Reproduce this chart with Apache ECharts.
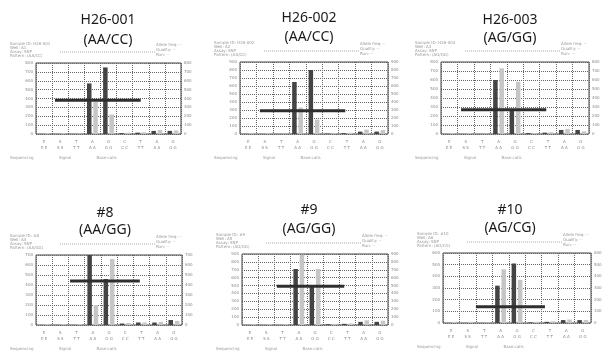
<!DOCTYPE html>
<html>
<head>
<meta charset="utf-8">
<script src="https://cdn.jsdelivr.net/npm/echarts@6/dist/echarts.min.js"></script>
<style>
  html, body { margin: 0; padding: 0; background: #fff; }
  #chart { width: 612px; height: 353px; }
</style>
</head>
<body>
<div id="chart"></div>
<script>
// sample names and genotypes
const sampleNames = ['H26-001', 'H26-002', 'H26-003', '#8', '#9', '#10']
const genotypes = ['(AA/CC)', '(AA/CC)', '(AG/GG)', '(AA/GG)', '(AG/GG)', '(AG/CG)']

// dispensation order under each column
const dispensations = ['E', 'S', 'T', 'A', 'G', 'C', 'T', 'A', 'G']

// y-axis top per pyrogram (gridline every 100)
const yMax = [800, 900, 800, 700, 900, 600]

// dark bars (first allele) per pyrogram
const darkP1 = [0, 0, 0, 570, 750, 10, 15, 35, 35]
const darkP2 = [0, 0, 0, 650, 800, 5, 10, 30, 30]
const darkP3 = [0, 0, 0, 600, 270, 10, 15, 45, 45]
const darkP4 = [0, 0, 0, 700, 460, 15, 25, 25, 50]
const darkP5 = [0, 0, 0, 710, 490, 10, 15, 40, 40]
const darkP6 = [0, 0, 0, 320, 510, 5, 10, 25, 25]

// light bars (second allele)
const lightP1 = [10, 10, 5, 360, 220, 15, 20, 45, 40]
const lightP2 = [10, 10, 5, 330, 180, 10, 15, 55, 50]
const lightP3 = [10, 10, 5, 730, 580, 10, 20, 55, 30]
const lightP4 = [10, 10, 10, 200, 660, 20, 25, 30, 40]
const lightP5 = [10, 10, 10, 890, 710, 15, 20, 60, 55]
const lightP6 = [10, 10, 5, 460, 370, 10, 15, 30, 25]

// reference line: level, start column, end column
const refLevel = [380, 290, 270, 440, 490, 140]
const refStart = [1.18, 1.21, 1.22, 2.1, 2.15, 2.0]
const refEnd = [6.5, 6.4, 6.4, 6.4, 6.3, 6.2]

const darkValues = [darkP1, darkP2, darkP3, darkP4, darkP5, darkP6]
const lightValues = [lightP1, lightP2, lightP3, lightP4, lightP5, lightP6]

// layout: plot boxes [left, top, width, height] and title centers
const boxes = [
  [36, 63, 145, 71], [240, 62, 148, 72], [441, 62, 148, 72],
  [36, 255, 146, 70], [242, 254, 146, 71], [443, 253, 148, 70]
]
const titleX = [103, 304, 505, 100, 304, 505]
const titleY1 = [15, 13, 15, 208, 205, 205]
const titleY2 = [35, 32, 33, 225, 224, 223]

const chart = echarts.init(document.getElementById('chart'), null, { renderer: 'canvas' })

const tiny = { fontSize: 4, color: '#888', fontFamily: 'DejaVu Sans' }
const title = []
const grid = []
const xAxis = []
const yAxis = []
const series = []
const graphic = []

sampleNames.forEach((name, i) => {
  const [l, t, w, h] = boxes[i]
  title.push({
    text: name, left: titleX[i], top: titleY1[i], textAlign: 'center', textVerticalAlign: 'middle',
    textStyle: { fontSize: 14, fontWeight: 'normal', color: '#1a1a1a', fontFamily: 'Noto Sans' }
  })
  title.push({
    text: genotypes[i], left: titleX[i], top: titleY2[i], textAlign: 'center', textVerticalAlign: 'middle',
    textStyle: { fontSize: 14, fontWeight: 'normal', color: '#1a1a1a', fontFamily: 'Noto Sans' }
  })

  grid.push({ left: l, top: t, width: w, height: h, show: true, borderColor: '#444', borderWidth: 1 })

  xAxis.push({
    type: 'category', gridIndex: i, data: dispensations,
    axisTick: { show: false },
    axisLine: { show: false },
    axisLabel: { interval: 0, margin: 5, lineHeight: 6, ...tiny, formatter: v => v + '\n' + v + ' ' + v },
    splitLine: { show: true, interval: 0, lineStyle: { color: '#666', type: 'dotted' } }
  })
  xAxis.push({ type: 'value', gridIndex: i, min: 0, max: 9, show: false })

  const yCommon = {
    type: 'value', gridIndex: i, min: 0, max: yMax[i], interval: 100,
    axisLine: { show: false }, axisTick: { show: false },
    axisLabel: { margin: 3, ...tiny }
  }
  yAxis.push({ ...yCommon, position: 'left', splitLine: { lineStyle: { color: '#666', type: 'dotted' } } })
  yAxis.push({ ...yCommon, position: 'right', splitLine: { show: false } })

  series.push({
    type: 'bar', xAxisIndex: i * 2, yAxisIndex: i * 2, data: darkValues[i],
    barWidth: 4.5, barGap: '40%', itemStyle: { color: '#444' }
  })
  series.push({
    type: 'bar', xAxisIndex: i * 2, yAxisIndex: i * 2, data: lightValues[i],
    barWidth: 4.5, itemStyle: { color: '#c6c6c6' }
  })
  series.push({
    type: 'line', xAxisIndex: i * 2 + 1, yAxisIndex: i * 2,
    data: [[refStart[i], refLevel[i]], [refEnd[i], refLevel[i]]],
    symbol: 'none', silent: true, z: 5,
    lineStyle: { color: '#2e2e2e', width: 3 }
  })

  // header and footer notes of the pyrogram printout
  graphic.push({
    type: 'text', left: l - 26, top: t - 21,
    style: { text: 'Sample ID: ' + name + '\nWell: A' + (i + 1) + '\nAssay: SNP\nPattern: ' + genotypes[i], fill: '#999', font: '4px DejaVu Sans', lineHeight: 4 }
  })
  graphic.push({
    type: 'line', shape: { x1: l + 24, y1: t - 11, x2: l + 120, y2: t - 11 },
    style: { stroke: '#aaa', lineDash: [1, 1], lineWidth: 1 }
  })
  graphic.push({
    type: 'text', left: l + 120, top: t - 21,
    style: { text: 'Allele freq: --\nQuality: --\nRun: --', fill: '#999', font: '4px DejaVu Sans', lineHeight: 5 }
  })
  graphic.push({
    type: 'text', left: l - 26, top: t + h + 22,
    style: { text: 'Sequencing                    Signal                    Base calls', fill: '#999', font: '4px DejaVu Sans' }
  })
})

chart.setOption({
  backgroundColor: '#fff',
  animation: false,
  title,
  grid,
  xAxis,
  yAxis,
  series,
  graphic
})
</script>
</body>
</html>
